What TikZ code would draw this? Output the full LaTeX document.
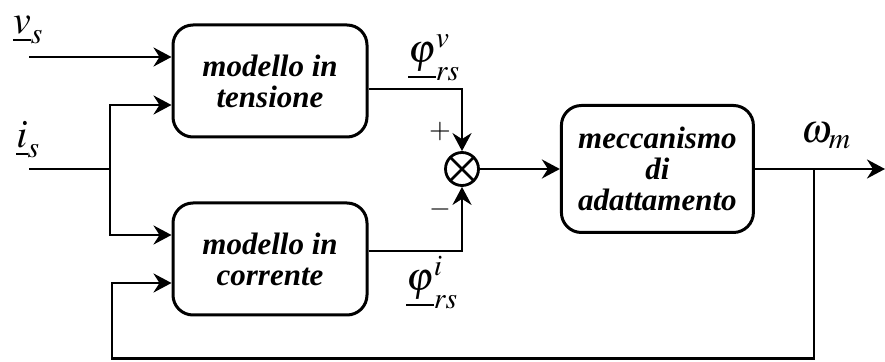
\documentclass[tikz,border=0pt]{standalone}
\usepackage{mathptmx}
\usepackage{fontspec}
\setmainfont{Liberation Serif}
\usetikzlibrary{arrows.meta,positioning,calc}
\tikzset{
  blocco/.style={rectangle, rounded corners=20pt, draw=black, line width=3pt, minimum width=194pt, minimum height=112pt, align=center, font=\fontsize{31}{31}\selectfont\bfseries\itshape, inner sep=0pt},
  somma/.style={circle, draw=black, line width=2.8pt, minimum size=33pt, inner sep=0pt,
    path picture={\draw[line width=2.8pt] (path picture bounding box.north west) -- (path picture bounding box.south east)
      (path picture bounding box.north east) -- (path picture bounding box.south west);}},
  linea/.style={draw=black, line width=2.8pt},
  segnale/.style={linea, -{Stealth[length=18pt,width=19pt,inset=6pt]}},
  etichetta/.style={font=\fontsize{40}{40}\selectfont, inner sep=0pt},
  segno/.style={font=\fontsize{28}{28}\selectfont, inner sep=0pt}
}

\begin{document}
\begin{tikzpicture}[x=1pt, y=1pt]
\useasboundingbox (0,0) rectangle (885,361);

\node[blocco] (tensione) at (270,280) {modello in\\tensione};
\node[blocco, below=63pt of tensione] (corrente) {modello in\\corrente};
\node[somma] (nodo) at (462,192) {};
\node[blocco, minimum width=192pt, minimum height=127pt, right=80pt of nodo] (adatt) {meccanismo\\di\\adattamento};

% ingressi
\coordinate (vs) at (29,304);
\coordinate (is) at (29,192);
\coordinate (dir) at (110,192);
\draw[segnale] (vs) -- (tensione.west |- vs);
\draw[linea] (is) -- (dir);
\draw[segnale] (dir) |- ($(tensione.west)+(0,-24)$);
\draw[segnale] (dir) |- ($(corrente.west)+(0,24)$);

% uscite dei modelli
\draw[segnale] ($(tensione.east)+(0,-8)$) -| (nodo.north);
\draw[segnale] ($(corrente.east)+(0,8)$) -| (nodo.south);
\draw[segnale] (nodo) -- (adatt);

% uscita e retroazione
\coordinate (uscita) at (885,192);
\coordinate (dirw) at (814,192);
\coordinate (basso) at (112,2.5);
\draw[segnale] (adatt) -- (uscita);
\draw[segnale] (dirw) |- (basso) |- ($(corrente.west)+(0,-24)$);

% etichette
\node[etichetta] (l-vs) at (28,331) {$\underline{v}_{s}$};
\node[etichetta] (l-is) at (28,221) {$\underline{i}_{s}$};
\node[etichetta] (l-phiv) at (434,303) {$\underline{\varphi}_{rs}^{v}$};
\node[etichetta] (l-phii) at (432,78) {$\underline{\varphi}_{rs}^{i}$};
\node[segno] (piu) at (440,229) {$+$};
\node[segno] (meno) at (440,151) {$-$};
\node[etichetta] (l-om) at (826,225) {$\omega_{m}$};

\end{tikzpicture}
\end{document}
